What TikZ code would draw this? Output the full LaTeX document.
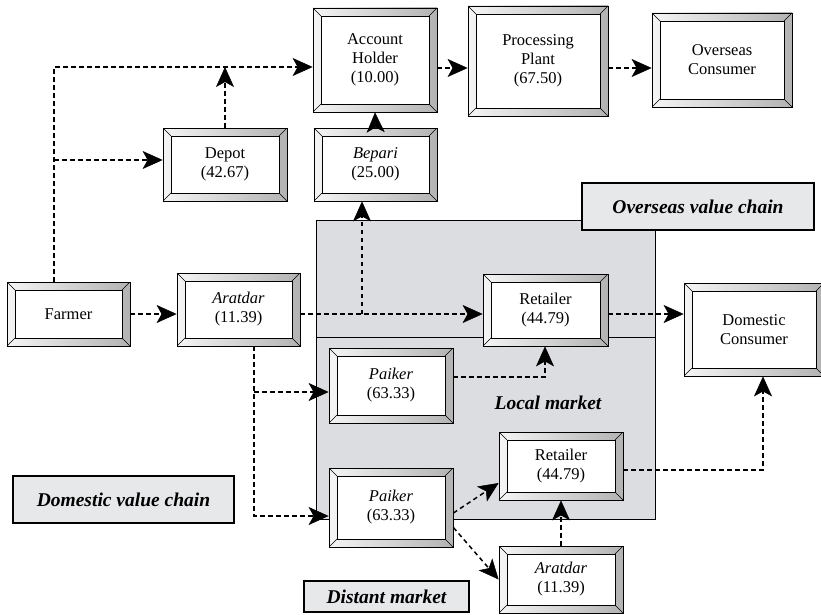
\documentclass[tikz,border=0pt]{standalone}
\usepackage{fontspec}
\setmainfont{Liberation Serif}
\usetikzlibrary{calc,arrows.meta}

\definecolor{regiongray}{RGB}{220,221,224}
\definecolor{labelgray}{RGB}{231,232,234}
\newcommand{\boxfont}{\fontsize{16.5}{19}\selectfont}
\newcommand{\labfont}{\fontsize{19.5}{22}\selectfont\bfseries\itshape}

\tikzset{
    bevel/.style={draw, line width=0.8pt, inner sep=0pt, align=center, font=\boxfont,
        path picture={
            \path (path picture bounding box.south west) coordinate (bsw)
                  (path picture bounding box.north east) coordinate (bne);
            \shade [left color=gray!8, right color=gray!60] (bsw) rectangle (bne);
            \filldraw [fill=white, line width=0.8pt] ($(bsw)+(8pt,8pt)$) coordinate (isw)
                rectangle ($(bne)-(8pt,8pt)$) coordinate (ine);
            \draw [line width=0.6pt] (bsw) -- (isw) (bne) -- (ine)
                (bsw |- bne) -- (isw |- ine) (bne |- bsw) -- (ine |- isw);
        }},
    labelbox/.style={draw, line width=1.5pt, fill=labelgray, inner sep=0pt, font=\labfont},
    flow/.style={line width=1.5pt, dash pattern=on 4.5pt off 3.5pt,
        -{Stealth[length=20pt, width=18pt, inset=5pt, line width=0.5pt, fill=black]}}
}

\begin{document}
\begin{tikzpicture}[x=1pt, y=-1pt]
    \useasboundingbox (0,0) rectangle (821,615);

    % Market region
    \fill [regiongray] (316,220) rectangle (655,519);
    \draw [line width=0.8pt] (316,220) rectangle (655,519);
    \draw [line width=0.8pt] (316,337) -- (655,337);

    % Actors
    \node [bevel, minimum width=124, minimum height=104] (acc) at (375,60) {Account\\Holder\\(10.00)};
    \node [bevel, minimum width=140, minimum height=110] (proc) at (538,61) {Processing\\Plant\\(67.50)};
    \node [bevel, minimum width=140, minimum height=94] (overc) at (722,60) {Overseas\\Consumer};
    \node [bevel, minimum width=124, minimum height=73] (depot) at (225,164.5) {Depot\\(42.67)};
    \node [bevel, minimum width=123, minimum height=73] (bepari) at (375.5,164.5) {\textit{Bepari}\\(25.00)};
    \node [bevel, minimum width=123, minimum height=64] (farmer) at (68.5,314) {Farmer};
    \node [bevel, minimum width=123, minimum height=73] (arat) at (238.5,309.5) {\textit{Aratdar}\\(11.39)};
    \node [bevel, minimum width=125, minimum height=72] (ret1) at (545.5,310) {Retailer\\(44.79)};
    \node [bevel, minimum width=140, minimum height=93] (domc) at (754,329.5) {Domestic\\Consumer};
    \node [bevel, minimum width=124, minimum height=75] (paik1) at (391,385.5) {\textit{Paiker}\\(63.33)};
    \node [bevel, minimum width=124, minimum height=79] (paik2) at (391,507.5) {\textit{Paiker}\\(63.33)};
    \node [bevel, minimum width=124, minimum height=68] (ret2) at (561,466) {Retailer\\(44.79)};
    \node [bevel, minimum width=124, minimum height=67] (arat2) at (561,579.5) {\textit{Aratdar}\\(11.39)};

    % Chain labels
    \node [labelbox, minimum width=232, minimum height=47] (ovlab) at (698,206.5) {Overseas value chain};
    \node [labelbox, minimum width=221, minimum height=47] (domlab) at (123.5,499.5) {Domestic value chain};
    \node [labelbox, minimum width=165, minimum height=31] (distlab) at (386.5,596.5) {Distant market};
    \node [font=\labfont] (local) at (548,403) {Local market};

    % Bend points
    \coordinate (jtop) at (54,67);
    \coordinate (jdep) at (54,160);
    \coordinate (ytop) at (0,68);
    \coordinate (jbep) at (362,314);
    \coordinate (jarat) at (254,392);
    \coordinate (jarat2) at (254,516);
    \coordinate (jpk) at (545,377);
    \coordinate (jret) at (763,470);

    % Overseas flows
    \draw [flow] (farmer.north -| jtop) -- (jtop) -- (jtop -| acc.west);
    \draw [flow] (jdep) -- (jdep -| depot.west);
    \draw [flow] (depot.north) -- (depot.north |- jtop);
    \draw [flow] (bepari.north) -- (acc.south);
    \draw [flow] (acc.east |- ytop) -- (proc.west |- ytop);
    \draw [flow] (proc.east |- ytop) -- (overc.west |- ytop);

    % Domestic flows
    \draw [flow] (farmer.east) -- (farmer.east -| arat.west);
    \draw [flow] (arat.east |- jbep) -- (ret1.west |- jbep);
    \draw [flow] (jbep) -- (jbep |- bepari.south);
    \draw [flow] (ret1.east |- jbep) -- (domc.west |- jbep);
    \draw [flow] (arat.south -| jarat) -- (jarat2) -- (jarat2 -| paik2.west);
    \draw [flow] (jarat) -- (jarat -| paik1.west);
    \draw [flow] (paik1.east |- jpk) -- (jpk) -- (jpk |- ret1.south);
    \draw [flow] ([yshift=-5.5pt]paik2.east) -- ([yshift=-17pt]ret2.west);
    \draw [flow] ([yshift=-20pt]paik2.east) -- (arat2.west);
    \draw [flow] (arat2.north) -- (ret2.south);
    \draw [flow] (ret2.east |- jret) -- (jret) -- (jret |- domc.south);
\end{tikzpicture}
\end{document}
